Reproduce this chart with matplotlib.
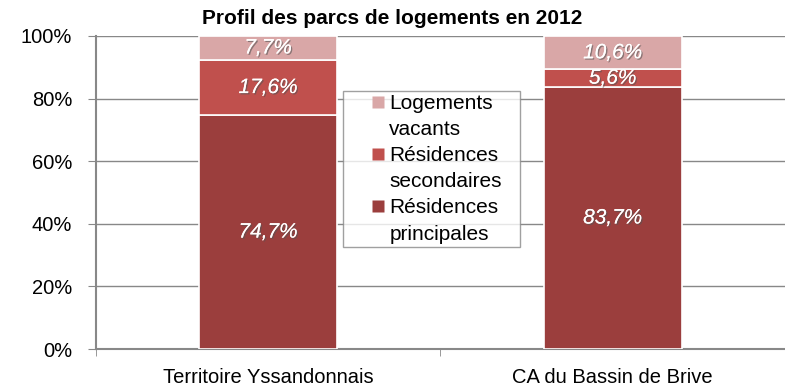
import matplotlib.pyplot as plt
import matplotlib.patheffects as pe
from matplotlib.lines import Line2D
import numpy as np

territoires = ['Territoire Yssandonnais', 'CA du Bassin de Brive']
principales = [74.7, 83.7]
secondaires = [17.6, 5.6]
vacants = [7.7, 10.6]

series = [
    ('Résidences principales', principales, '#9b3e3d'),
    ('Résidences secondaires', secondaires, '#c0504d'),
    ('Logements vacants', vacants, '#d9a7a7'),
]

plt.rcParams['font.family'] = ['Liberation Sans', 'DejaVu Sans']

fig = plt.figure(figsize=(7.85, 3.9), dpi=100)
ax = fig.add_axes([0.122, 0.105, 0.878, 0.803])

x = np.arange(len(territoires))
bottom = np.zeros(len(territoires))
for nom, vals, couleur in series:
    vals = np.array(vals)
    ax.bar(x, vals, width=0.4, bottom=bottom, color=couleur,
           edgecolor='white', linewidth=1.2, zorder=3, label=nom)
    for xi, b, v in zip(x, bottom, vals):
        txt = ax.text(xi, b + v / 2, f'{v:.1f}%'.replace('.', ','),
                      ha='center', va='center', color='white', style='italic',
                      fontsize=15, zorder=4)
        txt.set_path_effects([pe.withSimplePatchShadow(offset=(1, -1), shadow_rgbFace='#555555', alpha=0.6),
                              pe.Normal()])
    bottom += vals

ax.set_xlim(-0.5, 1.5)
ax.set_ylim(0, 100)
ax.set_yticks(np.arange(0, 101, 20))
ax.set_yticklabels([f'{t}%' for t in range(0, 101, 20)])
ax.set_xticks(x)
ax.set_xticklabels(territoires)
ax.set_xticks([-0.5, 0.5, 1.5], minor=True)
ax.tick_params(axis='x', which='major', length=0, pad=14, labelsize=14.5)
ax.tick_params(axis='x', which='minor', length=5, color='#888888', direction='out')
ax.tick_params(axis='y', length=6, color='#888888', labelsize=14.5, pad=11)
ax.yaxis.grid(True, color='#888888', linewidth=1, zorder=0)
for side in ['top', 'right']:
    ax.spines[side].set_visible(False)
for side in ['left', 'bottom']:
    ax.spines[side].set_color('#888888')
    ax.spines[side].set_linewidth(1.5)

fig.suptitle('Profil des parcs de logements en 2012', fontsize=15,
             fontweight='bold', x=0.5, y=0.978, va='top')

# legend: one marker per series, label wrapped over two lines
leg_handles, leg_labels = [], []
for nom, vals, couleur in series[::-1]:
    mot1, mot2 = nom.split(' ', 1)
    leg_handles.append(Line2D([], [], marker='s', linestyle='', markersize=8.5,
                              markerfacecolor=couleur, markeredgecolor='none'))
    leg_labels.append(mot1)
    leg_handles.append(Line2D([], [], linestyle='', marker=None))
    leg_labels.append(mot2)

leg = ax.legend(leg_handles, leg_labels, loc='upper left',
                bbox_to_anchor=(0.358, 0.824, 0.258, 0.0), mode='expand',
                borderaxespad=0, fontsize=15, frameon=True, fancybox=False,
                handlelength=3.1, handletextpad=-1.0, borderpad=0.15,
                labelspacing=0.34)
leg.get_frame().set_edgecolor('#888888')
leg.get_frame().set_linewidth(1)
leg.set_zorder(5)

fig.savefig('out.png', dpi=100)
